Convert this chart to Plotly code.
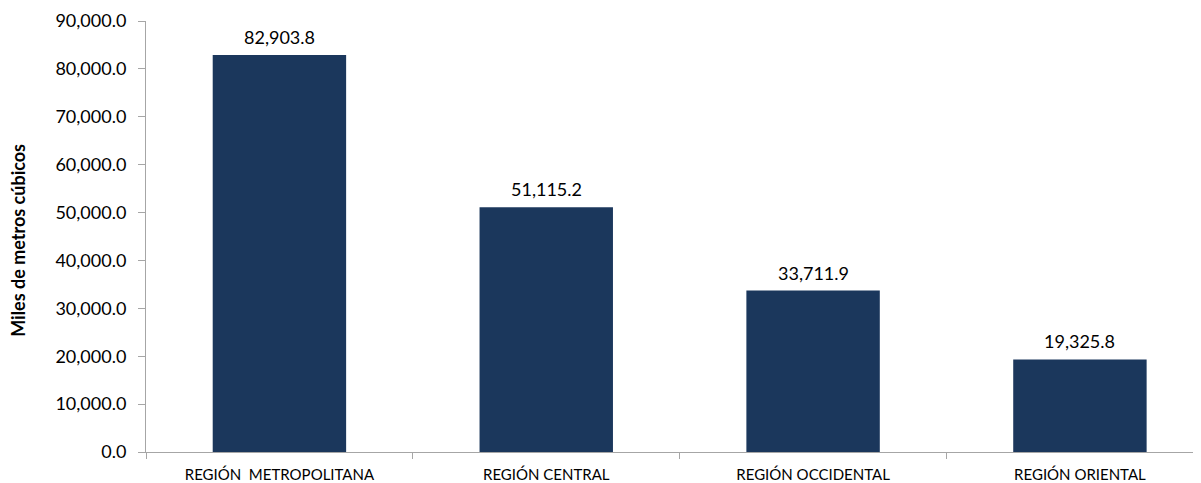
import plotly.graph_objects as go

categories = ["REGIÓN  METROPOLITANA", "REGIÓN CENTRAL", "REGIÓN OCCIDENTAL", "REGIÓN ORIENTAL"]
values = [82903.8, 51115.2, 33711.9, 19325.8]
y_ticks = [0, 10000, 20000, 30000, 40000, 50000, 60000, 70000, 80000, 90000]
y_title = "Miles de metros cúbicos"

font_family = "Lato, 'Open Sans', sans-serif"

fig = go.Figure(go.Bar(
    x=categories,
    y=values,
    marker=dict(color="#1B375C", line=dict(width=0)),
    width=0.5,
    hoverinfo="x+y",
))

for c, v in zip(categories, values):
    fig.add_annotation(
        x=c, y=v, xref="x", yref="y",
        text=f"{v:,.1f}", showarrow=False,
        yanchor="bottom", yshift=5,
        font=dict(size=18, color="#000000", family=font_family),
    )

# plot area in figure px: left 138, right 1192, top 13, bottom 444 (page body adds 8px offset)
fig.add_annotation(
    xref="paper", yref="paper",
    x=(10 - 138) / (1192 - 138), y=0.49,
    text="<b>" + y_title + "</b>", showarrow=False,
    textangle=-90, xanchor="center", yanchor="middle",
    font=dict(size=18, color="#000000", family=font_family),
)

fig.update_layout(
    width=1193, height=475,
    margin=dict(l=138, r=1, t=13, b=31),
    paper_bgcolor="white", plot_bgcolor="white",
    showlegend=False,
    font=dict(family=font_family, color="#000000"),
)
fig.update_xaxes(
    type="category",
    range=[-0.5, 3.45],
    tickson="boundaries",
    ticks="outside", ticklen=6, tickcolor="#A6A6A6",
    showline=True, linecolor="#A6A6A6", linewidth=1,
    showgrid=False,
    ticklabelstandoff=9,
    tickfont=dict(size=15, family=font_family),
)
fig.update_yaxes(
    range=[0, 90000],
    tickvals=y_ticks,
    tickformat=",.1f",
    ticks="outside", ticklen=7, tickcolor="#A6A6A6",
    showline=True, linecolor="#A6A6A6", linewidth=1,
    showgrid=False, zeroline=False,
    ticklabelstandoff=8,
    tickfont=dict(size=18, family=font_family),
)

fig.write_html("out.html")
